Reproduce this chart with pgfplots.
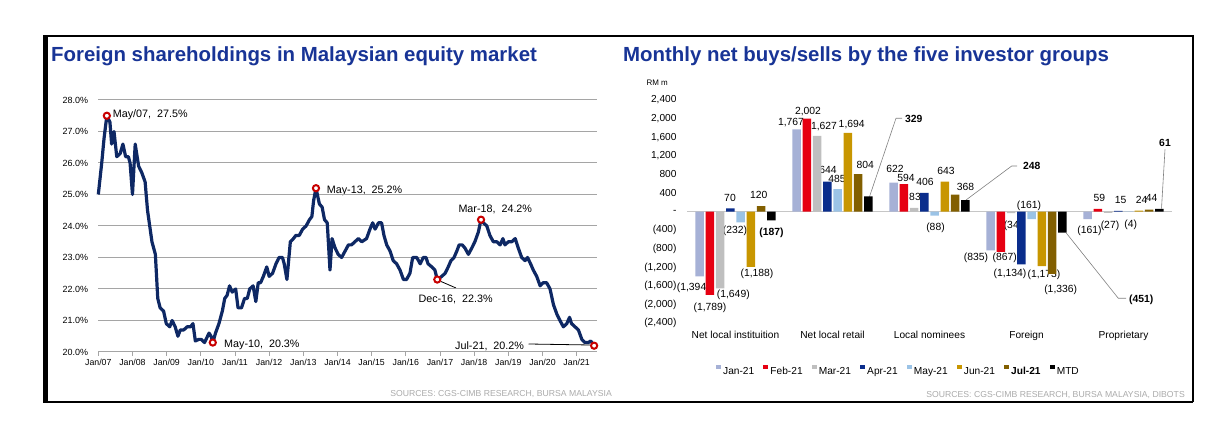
\documentclass[border=0pt]{standalone}
\usepackage{fontspec}
\setmainfont{Liberation Sans}
\usepackage{pgfplots}
\pgfplotsset{compat=1.18}

\definecolor{titleblue}{RGB}{24,52,150}
\definecolor{linenavy}{RGB}{14,40,100}
\definecolor{markred}{RGB}{200,0,0}
\definecolor{gridgray}{RGB}{165,165,165}
\definecolor{srcgray}{RGB}{170,170,170}
\definecolor{cjan}{RGB}{166,177,214}
\definecolor{cfeb}{RGB}{230,0,18}
\definecolor{cmar}{RGB}{191,191,191}
\definecolor{capr}{RGB}{10,45,140}
\definecolor{cmay}{RGB}{155,195,230}
\definecolor{cjun}{RGB}{200,150,0}
\definecolor{cjul}{RGB}{130,95,0}
\definecolor{cmtd}{RGB}{0,0,0}

\newcommand{\annfont}{\fontsize{10.8}{12}\selectfont}
\newcommand{\valfont}{\fontsize{10.4}{12}\selectfont}

\begin{document}
\begin{tikzpicture}
\begin{scope}[x=1bp,y=1bp]
\useasboundingbox (0,0) rectangle (1232,442);

% frame
\draw[line width=1.3bp] (43,406) -- (1193,406) -- (1193,40);
\draw[line width=2bp] (43,40) -- (1193,40);
\draw[line width=5.5bp] (45.7,39) -- (45.7,406.6);

% titles
\node[anchor=base west, inner sep=0pt, font=\fontsize{20.5}{24}\selectfont\bfseries, text=titleblue] at (51,380.3) {Foreign shareholdings in Malaysian equity market};
\node[anchor=base west, inner sep=0pt, font=\fontsize{20.5}{24}\selectfont\bfseries, text=titleblue] at (623,380.3) {Monthly net buys/sells by the five investor groups};

% sources
\node[anchor=base east, inner sep=0pt, font=\fontsize{8.7}{10}\selectfont, text=srcgray] at (612,45.6) {SOURCES: CGS-CIMB RESEARCH, BURSA MALAYSIA};
\node[anchor=base east, inner sep=0pt, font=\fontsize{8.7}{10}\selectfont, text=srcgray] at (1185,44.6) {SOURCES: CGS-CIMB RESEARCH, BURSA MALAYSIA, DIBOTS};

% left annotations
\node[anchor=base west, inner sep=0pt, font=\annfont] at (112.7,324.8) {May/07,\ \ 27.5\%};
\node[anchor=base west, inner sep=0pt, font=\annfont] at (224,94.1) {May-10,\ \ 20.3\%};
\node[anchor=base west, inner sep=0pt, font=\annfont] at (326.7,248.8) {May-13,\ \ 25.2\%};
\node[anchor=base west, inner sep=0pt, font=\annfont] at (418.3,139.8) {Dec-16,\ \ 22.3\%};
\node[anchor=base west, inner sep=0pt, font=\annfont] at (458.3,229.8) {Mar-18,\ \ 24.2\%};
\node[anchor=base west, inner sep=0pt, font=\annfont] at (455,92.1) {Jul-21,\ \ 20.2\%};
\draw[line width=0.8bp] (441,160.5) -- (456,154);
\draw[line width=0.8bp] (528.5,98) -- (590,97);

% right chart value labels
\begin{scope}[every node/.style={anchor=base, inner sep=0pt, font=\valfont}]
\node at (693.3,151.1) {(1,394)};
\node at (710,131.1) {(1,789)};
\node at (733.3,144.4) {(1,649)};
\node at (730,240.7) {70};
\node at (735,208.4) {(232)};
\node at (758.7,243.4) {120};
\node at (757,165.7) {(1,188)};
\node[font=\valfont\bfseries] at (771.5,206.7) {(187)};
\node at (791,316.1) {1,767};
\node at (808,327.7) {2,002};
\node at (824,312.4) {1,627};
\node at (828,268.4) {644};
\node at (837,259.1) {485};
\node at (851.7,314.1) {1,694};
\node at (865.3,273.4) {804};
\node[anchor=base west, font=\valfont\bfseries] at (905,319.1) {329};
\node at (895,269.1) {622};
\node at (906,260.1) {594};
\node at (915,241.1) {83};
\node at (925,256.7) {406};
\node at (935.5,211.1) {(88)};
\node at (946,267.4) {643};
\node at (965.5,251.7) {368};
\node[anchor=base west, font=\valfont\bfseries] at (1023,272.4) {248};
\node at (976,181.1) {(835)};
\node at (1004.7,181.1) {(867)};
\node at (1013,213.4) {(34)};
\node at (1010,165.1) {(1,134)};
\node at (1029,233.4) {(161)};
\node at (1044,164.4) {(1,173)};
\node at (1060.7,149.4) {(1,336)};
\node[anchor=base west, font=\valfont\bfseries] at (1129,139.1) {(451)};
\node at (1089.5,208.4) {(161)};
\node at (1099.3,240.1) {59};
\node at (1110,213.4) {(27)};
\node at (1120.7,238.4) {15};
\node at (1130.8,214.4) {(4)};
\node at (1141.7,238.4) {24};
\node at (1151.7,240.1) {44};
\node[font=\valfont\bfseries] at (1165,295.1) {61};
\end{scope}
\draw[gray, line width=0.6bp] (869.5,245.3) -- (896,323.7) -- (902,323.7);
\draw[gray, line width=0.6bp] (966,242) -- (1011.7,276) -- (1017,276);
\draw[gray, line width=0.6bp] (1066,209.3) -- (1118.3,143.7) -- (1126,143.7);
\draw[gray, line width=0.6bp] (1161.5,233.5) -- (1165,292.7);
\node[anchor=base east, inner sep=0pt, font=\fontsize{8}{9}\selectfont] at (668,356) {RM m};
\end{scope}

% ---------------- left chart ----------------
\begin{axis}[
  at={(98.3bp,90bp)}, anchor=south west, scale only axis,
  width=498.9bp, height=252bp,
  xmin=2007, xmax=2021.6, ymin=20, ymax=28,
  axis line style={draw=none},
  xtick={2007,...,2021},
  xticklabels={Jan/07,Jan/08,Jan/09,Jan/10,Jan/11,Jan/12,Jan/13,Jan/14,Jan/15,Jan/16,Jan/17,Jan/18,Jan/19,Jan/20,Jan/21},
  ytick={20,...,28},
  yticklabels={20.0\%,21.0\%,22.0\%,23.0\%,24.0\%,25.0\%,26.0\%,27.0\%,28.0\%},
  xtick pos=bottom, ytick pos=left,
  tick align=outside, major tick length=4bp,
  xtick style={draw=gridgray, line width=0.8bp},
  ytick style={draw=none},
  ymajorgrids, grid style={gridgray, line width=1bp},
  xticklabel style={font=\fontsize{8.8}{10}\selectfont, anchor=base, yshift=-9.3bp},
  yticklabel style={font=\fontsize{9}{10}\selectfont, inner sep=0pt, anchor=east, xshift=-6bp},
  clip=false,
]
\addplot[linenavy, line width=3.2bp, line join=round, mark=none] coordinates {
(2007.00,25.0) (2007.10,26.0) (2007.17,26.8) (2007.25,27.5) (2007.34,27.3) (2007.39,26.6)
(2007.46,27.0) (2007.54,26.2) (2007.64,26.3) (2007.72,26.6) (2007.80,26.2) (2007.88,26.2)
(2007.93,26.0) (2008.00,25.0) (2008.08,26.6) (2008.18,25.9) (2008.27,25.7) (2008.37,25.4)
(2008.44,24.5) (2008.57,23.5) (2008.67,23.1) (2008.74,21.7) (2008.81,21.4) (2008.91,21.3)
(2008.99,20.9) (2009.09,20.8) (2009.16,21.0) (2009.25,20.8) (2009.33,20.5) (2009.40,20.7)
(2009.50,20.7) (2009.60,20.8) (2009.70,20.8) (2009.77,20.9) (2009.84,20.35) (2009.94,20.4)
(2010.01,20.4) (2010.11,20.3) (2010.24,20.6) (2010.30,20.5) (2010.35,20.3) (2010.43,20.6)
(2010.53,20.9) (2010.63,21.3) (2010.70,21.7) (2010.77,21.8) (2010.84,22.1) (2010.92,21.9)
(2011.02,22.0) (2011.09,21.4) (2011.19,21.4) (2011.28,21.7) (2011.36,21.7) (2011.43,22.0)
(2011.53,22.1) (2011.61,21.6) (2011.68,22.2) (2011.75,22.2) (2011.83,22.4) (2011.93,22.7)
(2012.00,22.4) (2012.10,22.5) (2012.20,22.8) (2012.29,23.0) (2012.39,23.0) (2012.44,22.8)
(2012.52,22.3) (2012.62,23.5) (2012.71,23.6) (2012.78,23.7) (2012.88,23.7) (2012.98,23.9)
(2013.08,24.0) (2013.18,24.2) (2013.25,24.3) (2013.30,24.8) (2013.37,25.2) (2013.47,24.7)
(2013.55,24.6) (2013.62,24.2) (2013.70,24.1) (2013.78,22.6) (2013.84,23.6) (2013.93,23.3)
(2014.02,23.1) (2014.12,23.0) (2014.22,23.2) (2014.32,23.4) (2014.41,23.4) (2014.51,23.5)
(2014.61,23.6) (2014.71,23.5) (2014.85,23.6) (2014.95,23.9) (2015.03,24.1) (2015.10,23.9)
(2015.20,24.1) (2015.29,24.1) (2015.36,23.7) (2015.44,23.4) (2015.54,23.2) (2015.63,22.9)
(2015.73,22.8) (2015.83,22.6) (2015.93,22.3) (2016.02,22.3) (2016.12,22.5) (2016.20,23.0)
(2016.32,23.0) (2016.42,22.8) (2016.51,23.0) (2016.59,23.0) (2016.65,22.8) (2016.76,22.7)
(2016.85,22.6) (2016.92,22.3) (2017.05,22.4) (2017.15,22.5) (2017.24,22.7) (2017.32,22.9)
(2017.41,23.0) (2017.49,23.2) (2017.56,23.4) (2017.65,23.4) (2017.73,23.3) (2017.83,23.1)
(2017.93,23.3) (2018.02,23.5) (2018.12,23.8) (2018.20,24.2) (2018.27,24.1) (2018.37,24.0)
(2018.46,23.7) (2018.56,23.5) (2018.66,23.5) (2018.76,23.4) (2018.84,23.6) (2018.90,23.4)
(2019.00,23.5) (2019.10,23.5) (2019.20,23.6) (2019.29,23.3) (2019.39,23.0) (2019.49,22.9)
(2019.56,23.0) (2019.65,22.8) (2019.73,22.6) (2019.83,22.4) (2019.93,22.1) (2020.02,22.2)
(2020.12,22.2) (2020.22,22.0) (2020.32,21.5) (2020.42,21.2) (2020.51,21.0) (2020.61,20.8)
(2020.71,20.9) (2020.79,21.1) (2020.85,20.9) (2020.95,20.8) (2021.05,20.7) (2021.15,20.4)
(2021.24,20.3) (2021.34,20.3) (2021.41,20.35) (2021.51,20.2)
};
\addplot[only marks, mark=*, mark size=3.1bp, mark options={draw=markred, fill=white, line width=2bp}] coordinates {
(2007.25,27.5) (2010.35,20.3) (2013.37,25.2) (2016.92,22.3) (2018.20,24.2) (2021.51,20.2)
};
\end{axis}

% ---------------- right chart ----------------
\begin{axis}[
  at={(687bp,118.7bp)}, anchor=south west, scale only axis,
  width=485bp, height=223.3bp,
  xmin=-0.5, xmax=4.5, ymin=-2400, ymax=2400,
  ybar=1.95bp, bar width=8.3bp,
  axis line style={draw=none}, major tick length=0pt,
  xtick={0,...,4},
  xticklabels={Net local instituition,Net local retail,Local nominees,Foreign,Proprietary},
  ytick={-2400,-2000,...,2400},
  yticklabels={{(2,400)},{(2,000)},{(1,600)},{(1,200)},{(800)},{(400)},{-},{400},{800},{1,200},{1,600},{2,000},{2,400}},
  xticklabel style={font=\fontsize{10.2}{12}\selectfont, anchor=base, yshift=-15.3bp},
  yticklabel style={font=\fontsize{10.2}{12}\selectfont, inner sep=0pt, anchor=east, xshift=-10.3bp},
  legend columns=8,
  legend style={draw=none, fill=none, inner sep=0pt, at={(axis description cs:0.0598,-0.215)}, anchor=west,
    font=\fontsize{10.2}{12}\selectfont,
    /tikz/every even column/.append style={column sep=7.2bp}},
  legend image code/.code={\fill[#1, draw=none] (0bp,1.9bp) rectangle (5bp,6.2bp);},
]
\draw[gray!45, line width=0.8bp] (axis cs:-0.5,0) -- (axis cs:4.5,0);
\addplot[fill=cjan, draw=none] coordinates {(0,-1394) (1,1767) (2,622) (3,-835) (4,-161)};
\addplot[fill=cfeb, draw=none] coordinates {(0,-1789) (1,2002) (2,594) (3,-867) (4,59)};
\addplot[fill=cmar, draw=none] coordinates {(0,-1649) (1,1627) (2,83) (3,-34) (4,-27)};
\addplot[fill=capr, draw=none] coordinates {(0,70) (1,644) (2,406) (3,-1134) (4,15)};
\addplot[fill=cmay, draw=none] coordinates {(0,-232) (1,485) (2,-88) (3,-161) (4,-4)};
\addplot[fill=cjun, draw=none] coordinates {(0,-1188) (1,1694) (2,643) (3,-1173) (4,24)};
\addplot[fill=cjul, draw=none] coordinates {(0,120) (1,804) (2,368) (3,-1336) (4,44)};
\addplot[fill=cmtd, draw=none] coordinates {(0,-187) (1,329) (2,248) (3,-451) (4,61)};
\legend{Jan-21,Feb-21,Mar-21,Apr-21,May-21,Jun-21,\textbf{Jul-21},MTD}
\end{axis}
\end{tikzpicture}
\end{document}
